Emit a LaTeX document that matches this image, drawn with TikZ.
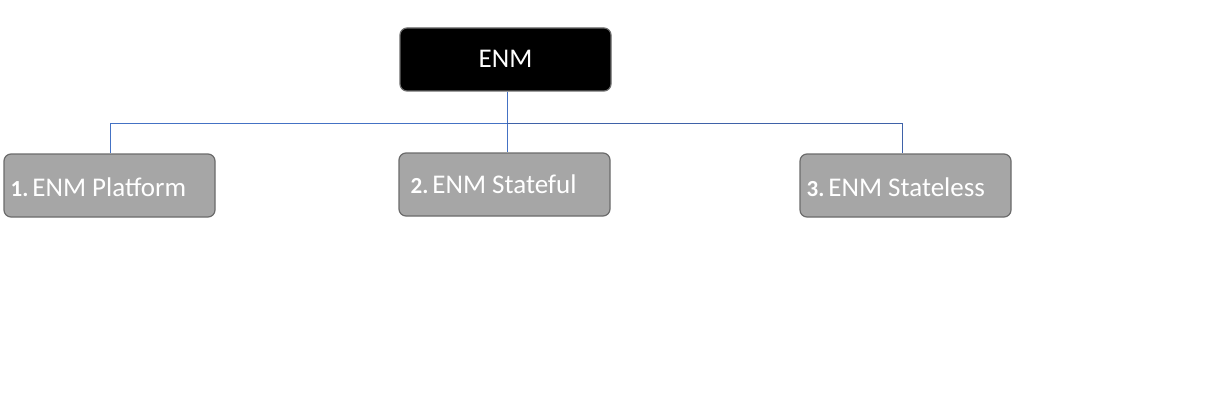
\documentclass[tikz,border=0pt]{standalone}
\usepackage{fontspec}
\setmainfont{Carlito}
\usetikzlibrary{calc}
\definecolor{boxgray}{HTML}{A6A6A6}
\definecolor{edgegray}{HTML}{6B6B6B}
\definecolor{connblue}{HTML}{4472C4}
\definecolor{conndark}{HTML}{3F62A8}
\tikzset{
  topbox/.style={draw=edgegray, line width=1.2pt, fill=black, rounded corners=7pt, minimum width=211pt, minimum height=63pt, inner sep=0pt},
  childbox/.style={draw=edgegray, line width=1.2pt, fill=boxgray, rounded corners=7pt, minimum width=211pt, minimum height=63pt, inner sep=0pt},
  lbl/.style={text=white, inner sep=0pt, font=\fontsize{27}{31}\selectfont},
  conn/.style={draw=connblue, line width=0.9pt},
}
\newcommand{\numtxt}[1]{{\fontsize{23}{26}\selectfont\bfseries #1}}
\begin{document}
\begin{tikzpicture}[x=1pt,y=-1pt]
\useasboundingbox (0,0) rectangle (1230,401);
\node[topbox] (top) at (505.5,59.5) {};
\node[lbl, anchor=base] (ttop) at ($(top.center)+(0pt,-8.5pt)$) {ENM};
\node[childbox] (b1) at (109.5,185.5) {};
\node[childbox] (b2) at (504.5,184.5) {};
\node[childbox] (b3) at (905.5,185.5) {};
\node[lbl, anchor=base west] (t1) at ($(b1.west)+(7pt,-10.5pt)$) {\numtxt{1.}\hspace{4pt}ENM Platform};
\node[lbl, anchor=base west] (t2) at ($(b2.west)+(12pt,-9pt)$) {\numtxt{2.}\hspace{4pt}ENM Stateful};
\node[lbl, anchor=base west] (t3) at ($(b3.west)+(7pt,-10.5pt)$) {\numtxt{3.}\hspace{4pt}ENM Stateless};
\coordinate (bus) at (507,123);
\coordinate (l1) at (110,123);
\coordinate (l3) at (902,123);
\draw[conn] (top.south -| bus) -- (b2.north -| bus);
\draw[conn] (b1.north -| l1) -- (l1) -- (bus);
\draw[conn, draw=conndark] (bus) -- (l3) -- (b3.north -| l3);
\end{tikzpicture}
\end{document}
